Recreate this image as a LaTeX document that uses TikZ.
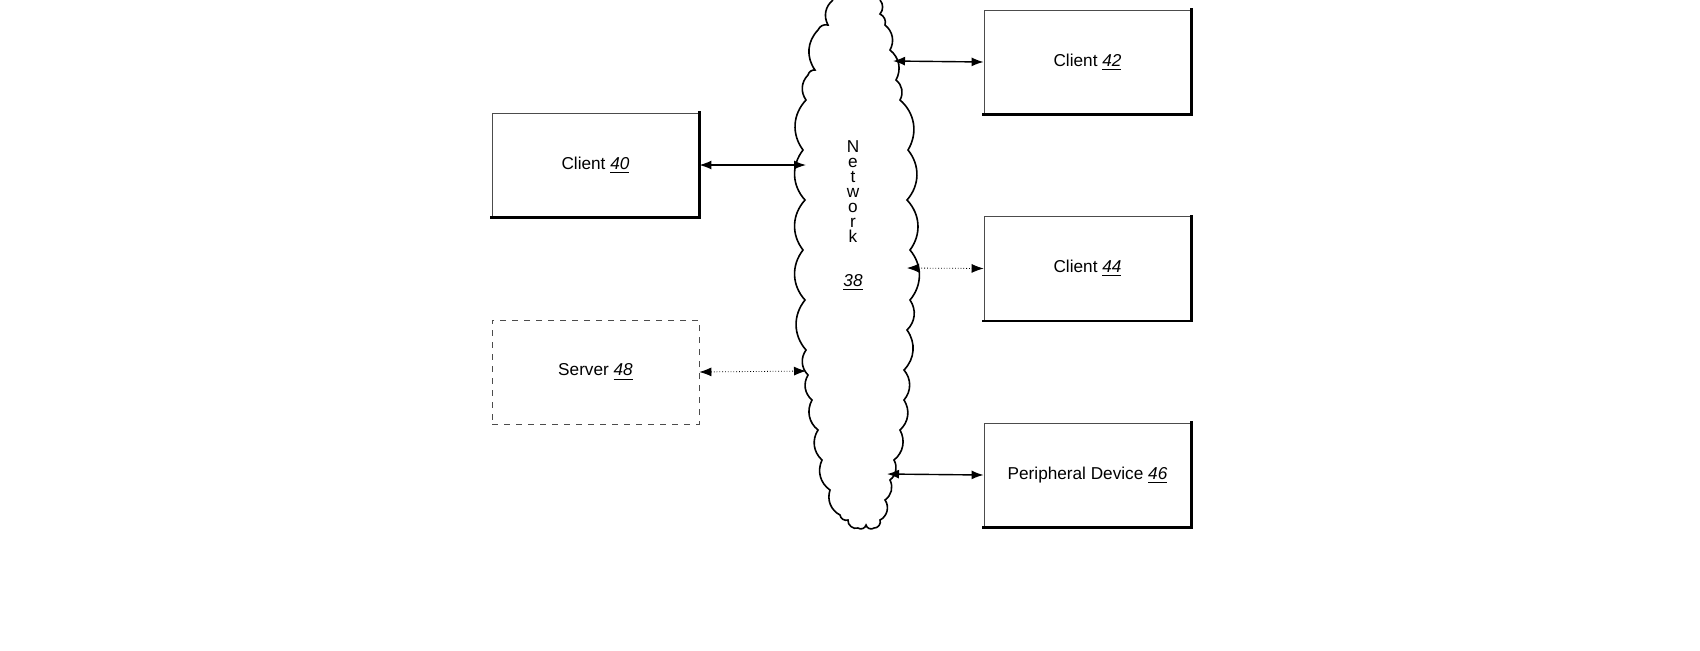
\documentclass[tikz,border=0pt]{standalone}
\usepackage{fontspec}
\setmainfont{Liberation Sans}
\usetikzlibrary{arrows.meta}
\begin{document}
\begin{tikzpicture}[x=0.5pt,y=-0.5pt,
  font=\fontsize{8.6}{10}\selectfont,
  box/.style={draw=black!70,line width=0.4pt,minimum width=103.5pt,minimum height=52pt,inner sep=0pt},
  sh/.style={line width=1.2pt,line cap=rect},
  link/.style={line width=0.7pt,{Latex[length=6pt,width=4.5pt]}-{Latex[length=6pt,width=4.5pt]}},
  dlink/.style={link,line width=0.4pt,densely dotted}]
\useasboundingbox (0,0) rectangle (1700,650);
% boxes
\node[box] (c40) at (595.5,165) {Client \underline{\itshape 40}};
\node[box,dashed] (s48) at (595.5,372) {Server \underline{\itshape 48}};
\node[box] (c42) at (1087.5,62) {Client \underline{\itshape 42}};
\node[box] (c44) at (1087.5,268.5) {Client \underline{\itshape 44}};
\node[box] (p46) at (1087.5,475) {Peripheral Device \underline{\itshape 46}};
\foreach \b in {c40,c42,c44,p46}{\draw[sh] (\b.south west) -- (\b.south east) -- (\b.north east);}
% cloud
\draw[fill=white,line width=0.8pt] (880,0) to[bend left=40] (880,14) to[bend left=40] (885,25) to[bend left=40] (890,50)
 to[bend left=40] (896,80) to[bend left=40] (900,100) to[bend left=40] (908,150) to[bend left=40] (907,200)
 to[bend left=40] (910,250) to[bend left=40] (910,300) to[bend left=40] (907,330) to[bend left=40] (904,370)
 to[bend left=40] (904,400) to[bend left=40] (900,430) to[bend left=40] (894,460) to[bend left=40] (890,480)
 to[bend left=40] (885,500) to[bend left=50] (880,520) to[bend left=60] (874,528) to[bend left=60] (866,525)
 to[bend left=60] (858,528) to[bend left=60] (848,520) to[bend left=50] (840,515) to[bend left=40] (830,490)
 to[bend left=40] (822,460) to[bend left=40] (818,430) to[bend left=40] (812,400) to[bend left=40] (808,375)
 to[bend left=40] (806,350) to[bend left=40] (805,300) to[bend left=40] (803,250) to[bend left=40] (805,200)
 to[bend left=40] (803,150) to[bend left=40] (806,100) to[bend left=40] (808,75) to[bend left=40] (815,70)
 to[bend left=40] (818,30) to[bend left=40] (828,25) to[bend left=40] (833,0);
\node[inner sep=0pt] (net) at (853,215) {\begin{tabular}{@{}c@{}}N\\[-2.5pt]e\\[-2.5pt]t\\[-2.5pt]w\\[-2.5pt]o\\[-2.5pt]r\\[-2.5pt]k\\[12pt]\underline{\itshape 38}\end{tabular}};
\coordinate (n40) at (806,165);
\coordinate (n42) at (893,61);
\coordinate (n44) at (907,268);
\coordinate (n48) at (806,371);
\coordinate (n46) at (887,474);
\draw[link] (c40.east) -- (n40);
\draw[link] (n42) -- (c42.west);
\draw[dlink] (n44) -- (c44.west);
\draw[dlink] (s48.east) -- (n48);
\draw[link] (n46) -- (p46.west);
\end{tikzpicture}
\end{document}
